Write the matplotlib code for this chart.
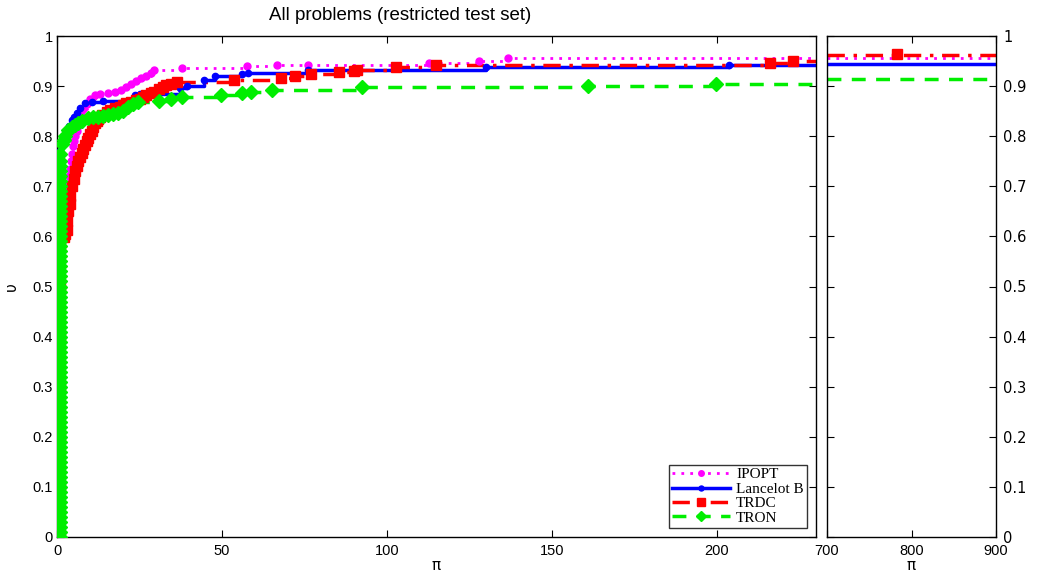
import matplotlib
matplotlib.use("Agg")
import matplotlib.pyplot as plt
from matplotlib.ticker import FormatStrFormatter
from matplotlib.lines import Line2D

# ---------------- data ----------------
labels = ["IPOPT", "Lancelot B", "TRDC", "TRON"]

ipopt_x = [1, 1, 1, 1, 1, 1, 1, 1, 2, 3, 3.3, 3.6, 3.9, 4.2, 4.5, 4.8, 5.2,
           5.6, 6, 6.5, 7, 7.5, 8, 9, 10,
           11.6, 13, 15.5, 17.5, 19.5, 21, 22.5, 24, 25.4, 27, 28.5, 29.5,
           38, 57.5, 66.6, 76, 112.7, 128, 136.7]
ipopt_y = [0.0, 0.1, 0.2, 0.3, 0.4, 0.5, 0.6, 0.65, 0.67, 0.69, 0.705, 0.72,
           0.735, 0.75, 0.765, 0.78, 0.79, 0.80, 0.81, 0.82, 0.83, 0.84,
           0.855, 0.865, 0.875, 0.882, 0.884, 0.887,
           0.889, 0.892, 0.899, 0.905, 0.911, 0.916, 0.921, 0.926, 0.932,
           0.936, 0.940, 0.942, 0.943, 0.947, 0.950, 0.956]

lanc_x = [1, 1, 1, 1, 1, 1, 1, 1, 1, 1.5, 2, 2.5, 3, 3.5, 4.5, 5, 6, 7,
          8.6, 10.6, 14, 23.7, 25, 37.3, 39.4, 44.6, 48, 56, 58, 76, 130,
          203.6]
lanc_y = [0.0, 0.1, 0.2, 0.3, 0.4, 0.5, 0.6, 0.7, 0.77, 0.78, 0.79, 0.80,
          0.81, 0.82, 0.832, 0.838, 0.846, 0.856, 0.866, 0.869, 0.871,
          0.882, 0.884, 0.896, 0.900, 0.912, 0.920, 0.924, 0.927, 0.932,
          0.939, 0.942]

trdc_x = [1, 1, 1, 1, 1, 1, 1, 2, 2.5, 3, 3, 3.4, 3.8, 4, 4.5, 5, 5.5, 6,
          6.4, 7, 7.5, 8, 8.5, 9, 9.4, 10, 10.5, 11, 11.5, 12, 12.5, 13,
          13.5, 15, 16, 17.5, 19, 20, 21, 22.5, 24, 25, 26, 27, 28.5, 29.4,
          31, 32, 33, 34.5, 36.4, 53.6, 68, 72, 77, 85.5, 90, 91, 102.6,
          114.8, 216, 223]
trdc_y = [0.0, 0.1, 0.2, 0.3, 0.4, 0.5, 0.58, 0.599, 0.605, 0.613, 0.63,
          0.65, 0.665, 0.68, 0.70, 0.715, 0.73, 0.74, 0.75, 0.758, 0.766,
          0.775, 0.783, 0.79, 0.797, 0.804, 0.81, 0.818, 0.826, 0.83,
          0.834, 0.838, 0.842, 0.848, 0.852, 0.856, 0.859, 0.862, 0.866,
          0.869, 0.872, 0.875, 0.879, 0.882, 0.886, 0.888, 0.895, 0.898,
          0.902, 0.905, 0.909, 0.912, 0.916, 0.920, 0.925, 0.928, 0.931,
          0.933, 0.939, 0.942, 0.947, 0.951]

tron_x = [1] * 77 + [
          1.5, 2, 2.5, 3.4, 4.5, 5.5, 6.4, 7.5, 9.4, 11, 12.5, 14, 15.5,
          17, 18.5, 20, 21.5, 23, 24.5, 31, 34.5, 38, 49.6, 56, 58.7, 65,
          92.4, 161, 199.7]
tron_y = [0.00, 0.01, 0.02, 0.03, 0.04, 0.05, 0.06, 0.07, 0.08, 0.09,
          0.10, 0.11, 0.12, 0.13, 0.14, 0.15, 0.16, 0.17, 0.18, 0.19,
          0.20, 0.21, 0.22, 0.23, 0.24, 0.25, 0.26, 0.27, 0.28, 0.29,
          0.30, 0.31, 0.32, 0.33, 0.34, 0.35, 0.36, 0.37, 0.38, 0.39,
          0.40, 0.41, 0.42, 0.43, 0.44, 0.45, 0.46, 0.47, 0.48, 0.49,
          0.50, 0.51, 0.52, 0.53, 0.54, 0.55, 0.56, 0.57, 0.58, 0.59,
          0.60, 0.61, 0.62, 0.63, 0.64, 0.65, 0.66, 0.67, 0.68, 0.69,
          0.70, 0.71, 0.72, 0.73, 0.74, 0.75, 0.765,
          0.785, 0.792, 0.80, 0.812, 0.818, 0.822, 0.826, 0.830, 0.836,
          0.838, 0.839, 0.840, 0.842, 0.844, 0.846, 0.850, 0.859, 0.865,
          0.868, 0.871, 0.874, 0.879, 0.882, 0.886, 0.889, 0.892, 0.899,
          0.901, 0.905]

# right panel (large ratios)
right_x = [700, 900]
ipopt_right = [0.957, 0.957]
lanc_right = [0.945, 0.945]
trdc_right = [0.963, 0.963]
tron_right = [0.914, 0.914]
trdc_right_mark_x = [783]
trdc_right_mark_y = [0.965]

main_xlim = (0, 230)
right_xlim = (700, 900)
main_xticks = [0, 50, 100, 150, 200]
right_xticks = [700, 800, 900]
yticks = [0, 0.1, 0.2, 0.3, 0.4, 0.5, 0.6, 0.7, 0.8, 0.9, 1]

# ---------------- styles ----------------
styles = [
    dict(color="#ff00ff", linestyle=(0, (1, 2.2)), lw=2.0, marker="o", ms=5),
    dict(color="#0000ff", linestyle="-", lw=2.5, marker="o", ms=4.5),
    dict(color="#ff0000", linestyle=(0, (5, 2.5, 1, 2.5)), lw=2.5, marker="s", ms=7.5),
    dict(color="#00ee00", linestyle=(0, (4, 3)), lw=2.5, marker="D", ms=7),
]

fig = plt.figure(figsize=(10.47, 5.79), dpi=100)
ax = fig.add_axes([57 / 1047, 42 / 579, (816 - 57) / 1047, (537 - 36) / 579])
ax2 = fig.add_axes([827 / 1047, 42 / 579, (996 - 827) / 1047, (537 - 36) / 579])

series = [(ipopt_x, ipopt_y), (lanc_x, lanc_y), (trdc_x, trdc_y), (tron_x, tron_y)]
rights = [ipopt_right, lanc_right, trdc_right, tron_right]

for (xs, ys), st in zip(series, styles):
    # step line extended to the right edge
    ax.plot(list(xs) + [main_xlim[1]], list(ys) + [ys[-1]], drawstyle="steps-post",
            color=st["color"], linestyle=st["linestyle"], lw=st["lw"], zorder=2)
    ax.plot(xs, ys, linestyle="none", marker=st["marker"], ms=st["ms"],
            color=st["color"], mec=st["color"], zorder=3)

for ry, st in zip(rights, styles):
    ax2.plot(right_x, ry, color=st["color"], linestyle=st["linestyle"], lw=st["lw"])
ax2.plot(trdc_right_mark_x, trdc_right_mark_y, linestyle="none",
         marker=styles[2]["marker"], ms=styles[2]["ms"], color=styles[2]["color"])

for a, xl, xt in [(ax, main_xlim, main_xticks), (ax2, right_xlim, right_xticks)]:
    a.set_xlim(*xl)
    a.set_ylim(0, 1)
    a.set_xticks(xt)
    a.set_yticks(yticks)
    a.yaxis.set_major_formatter(FormatStrFormatter("%g"))
    a.tick_params(direction="in", length=5, width=0.8, top=True, right=True,
                  labelsize=10.5, pad=3)
    a.tick_params(axis="x", pad=5)
    for lab in a.get_xticklabels() + a.get_yticklabels():
        lab.set_fontfamily("Liberation Sans")
    for sp in a.spines.values():
        sp.set_linewidth(1.0)

ax2.tick_params(labelleft=False, labelright=True)
ax2.tick_params(axis="y", pad=5)

# labels
ax.set_xlabel("π", fontsize=11, family="DejaVu Sans", labelpad=0)
ax2.set_xlabel("π", fontsize=11, family="DejaVu Sans", labelpad=0)
ax.set_ylabel("υ", fontsize=11, family="DejaVu Sans", labelpad=10)
fig.text(400 / 1047, 1 - 15 / 579, "All problems (restricted test set)",
         ha="center", va="center", fontsize=13.5, family="Liberation Sans")

# legend
handles = [Line2D([0], [0], color=st["color"], linestyle=st["linestyle"], lw=st["lw"],
                  marker=st["marker"], ms=st["ms"] * 0.8) for st in styles]
leg = ax.legend(handles, labels, loc="lower right", prop=dict(family="Liberation Serif", size=11),
                handlelength=3.8, handletextpad=0.4, borderpad=0.2, labelspacing=0.05,
                frameon=True, fancybox=False, borderaxespad=0.6)
leg.get_frame().set_edgecolor("black")
leg.get_frame().set_linewidth(1.0)

fig.savefig("out.png", dpi=100)
